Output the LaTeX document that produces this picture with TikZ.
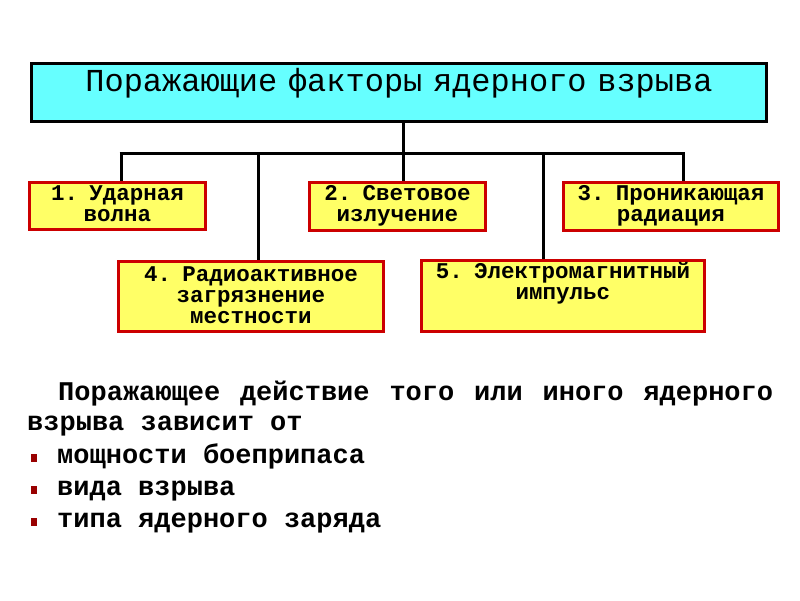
\documentclass[tikz,border=0pt]{standalone}
\usepackage{fontspec}
\setmainfont{Liberation Mono}

\definecolor{headcyan}{HTML}{66FFFF}
\definecolor{boxyellow}{HTML}{FFFF66}
\definecolor{boxred}{HTML}{CC0000}
\definecolor{bulletred}{HTML}{990000}

\tikzset{
  headbox/.style={draw=black, line width=2.5pt, fill=headcyan, inner sep=0pt},
  factorbox/.style={draw=boxred, line width=3pt, fill=boxyellow, inner sep=0pt},
  headtext/.style={inner sep=0pt, text width=720pt, align=center,
    font=\fontsize{32}{36}\selectfont},
  factortext/.style={inner sep=0pt, text width=280pt, align=center,
    font=\bfseries\fontsize{22.5}{21}\selectfont},
  bodytext/.style={inner sep=0pt, font=\bfseries\fontsize{27}{32}\selectfont},
  link/.style={draw=black, line width=3pt}
}

\begin{document}
\begin{tikzpicture}[x=1pt, y=-1pt]

  \useasboundingbox [fill=white] (0,0) rectangle (800,600);

  \node [headbox, minimum width=735pt, minimum height=58pt] (head) at (399,92.5) {};
  \node [headtext, anchor=base] (headlbl) at ([yshift=-29pt]head.north)
    {Поражающие факторы ядерного взрыва};

  \node [factorbox, minimum width=176pt, minimum height=47pt] (f1) at (117.5,206) {};
  \node [factorbox, minimum width=176pt, minimum height=48pt] (f2) at (397.5,206.5) {};
  \node [factorbox, minimum width=215pt, minimum height=48pt] (f3) at (671,206.5) {};
  \node [factorbox, minimum width=265pt, minimum height=70pt] (f4) at (251,296.5) {};
  \node [factorbox, minimum width=283pt, minimum height=71pt] (f5) at (563,296) {};

  \node [factortext, anchor=base] (f1lbl) at ([yshift=-19pt]f1.north) {1. Ударная\\волна};
  \node [factortext, anchor=base] (f2lbl) at ([yshift=-19pt]f2.north) {2. Световое\\излучение};
  \node [factortext, anchor=base] (f3lbl) at ([yshift=-19pt]f3.north) {3. Проникающая\\радиация};
  \node [factortext, anchor=base] (f4lbl) at ([yshift=-21pt]f4.north)
    {4. Радиоактивное\\загрязнение\\местности};
  \node [factortext, anchor=base] (f5lbl) at ([yshift=-19pt]f5.north)
    {5. Электромагнитный\\импульс};

  % drop points on the bar
  \coordinate (d1) at (121,153);
  \coordinate (d4) at (258,153);
  \coordinate (d2) at (403,153);
  \coordinate (d5) at (543,153);
  \coordinate (d3) at (683,153);

  \draw [link] (d2 |- head.south) -- (d2 |- f2.north);
  \draw [link] ([xshift=-1.5pt]d1) -- ([xshift=1.5pt]d3);
  \draw [link] (d1) -- (d1 |- f1.north);
  \draw [link] (d4) -- (d4 |- f4.north);
  \draw [link] (d5) -- (d5 |- f5.north);
  \draw [link] (d3) -- (d3 |- f3.north);

  \node [bodytext, anchor=base west] (intro1) at (58,400)
    {\makebox[715pt][l]{Поражающее\hfill действие\hfill того\hfill или\hfill иного\hfill ядерного}};
  \node [bodytext, anchor=base west] (intro2) at (27,430) {взрыва зависит от};

  \foreach \y/\t [count=\i] in {463/мощности боеприпаса, 495/вида взрыва, 527/типа ядерного заряда} {
    \fill [bulletred] (31,\y-9) rectangle (37,\y-1);
    \node [bodytext, anchor=base west] (item\i) at (57,\y) {\t};
  }
\end{tikzpicture}
\end{document}
